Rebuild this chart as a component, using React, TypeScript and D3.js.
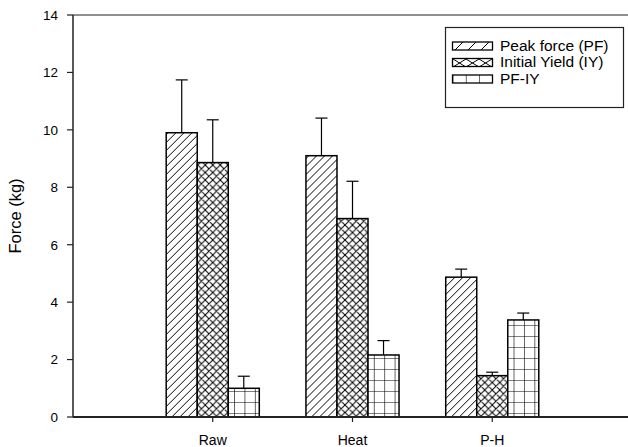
import * as d3 from 'd3'
import React from 'react'

// values
const categories = ['Raw', 'Heat', 'P-H']
const seriesNames = ['Peak force (PF)', 'Initial Yield (IY)', 'PF-IY']
const peakForce = [9.9, 9.1, 4.87]
const peakForceErr = [1.84, 1.31, 0.28]
const initialYield = [8.86, 6.91, 1.44]
const initialYieldErr = [1.49, 1.3, 0.12]
const pfMinusIy = [1.0, 2.16, 3.38]
const pfMinusIyErr = [0.42, 0.5, 0.24]
const yTicks = [0, 2, 4, 6, 8, 10, 12, 14]

const values = [peakForce, initialYield, pfMinusIy]
const errors = [peakForceErr, initialYieldErr, pfMinusIyErr]
const patternIds = ['diag', 'cross', 'grid']

const width = 628
const height = 447
const font = 'Arial, "Liberation Sans", sans-serif'

export default function App() {
  const y = d3.scaleLinear().domain([0, 14]).range([417, 15])
  const x = d3.scaleLinear().domain([0, 4]).range([73, 632])
  const step = x(1) - x(0)
  const inner = d3
    .scaleBand<string>()
    .domain(seriesNames)
    .range([-step * 0.333, step * 0.333])
    .padding(0)

  const capW = 12

  return (
    <svg
      width={width}
      height={height}
      style={{ position: 'absolute', left: 0, top: 0, background: '#fff' }}
      fontFamily={font}
    >
      <defs>
        <pattern id="diag" patternUnits="userSpaceOnUse" width={8} height={8}>
          <path d="M-2,2 L2,-2 M0,8 L8,0 M6,10 L10,6" stroke="#000" strokeWidth={1} />
        </pattern>
        <pattern id="cross" patternUnits="userSpaceOnUse" width={7.5} height={7.5}>
          <path
            d="M-2,2 L2,-2 M0,7.5 L7.5,0 M5.5,9.5 L9.5,5.5 M-2,5.5 L2,9.5 M0,0 L7.5,7.5 M5.5,-2 L9.5,2"
            stroke="#000"
            strokeWidth={1}
          />
        </pattern>
        <pattern id="grid" patternUnits="userSpaceOnUse" width={10.4} height={11} x={0.5} y={6}>
          <path d="M0,0 L0,11 M0,0 L10.4,0" stroke="#000" strokeWidth={1.2} />
        </pattern>
        <pattern id="ldiag" patternUnits="userSpaceOnUse" width={13} height={13} x={453}>
          <path d="M0,13 L13,0 M-3,3 L3,-3 M10,16 L16,10" stroke="#000" strokeWidth={1} />
        </pattern>
        <pattern id="lcross" patternUnits="userSpaceOnUse" width={13} height={8} x={453} y={59}>
          <path d="M0,0 L13,8 M0,8 L13,0" stroke="#000" strokeWidth={1} />
        </pattern>
        <pattern id="lgrid" patternUnits="userSpaceOnUse" width={13.3} height={20} x={452.5}>
          <path d="M0,0 L0,20" stroke="#000" strokeWidth={1.2} />
        </pattern>
      </defs>

      {/* bars */}
      {categories.map((cat, ci) => (
        <g key={cat} transform={`translate(${x(ci + 1)},0)`}>
          {seriesNames.map((s, si) => {
            const v = values[si][ci]
            const e = errors[si][ci]
            const bx = inner(s) as number
            const bw = inner.bandwidth()
            const cx = bx + bw / 2
            return (
              <g key={s}>
                <line x1={cx} x2={cx} y1={y(v)} y2={y(v + e)} stroke="#000" strokeWidth={1.2} />
                <line
                  x1={cx - capW / 2}
                  x2={cx + capW / 2}
                  y1={y(v + e)}
                  y2={y(v + e)}
                  stroke="#000"
                  strokeWidth={1.2}
                />
                <rect x={bx} y={y(v)} width={bw} height={y(0) - y(v)} fill="#fff" />
                <rect
                  x={bx}
                  y={y(v)}
                  width={bw}
                  height={y(0) - y(v)}
                  fill={`url(#${patternIds[si]})`}
                  stroke="#000"
                  strokeWidth={1.5}
                />
              </g>
            )
          })}
        </g>
      ))}

      {/* frame */}
      <line x1={x(0)} x2={width} y1={y(14)} y2={y(14)} stroke="#222" strokeWidth={1.2} />
      <line x1={x(0)} x2={width} y1={y(0)} y2={y(0)} stroke="#222" strokeWidth={2} />
      <line x1={x(0)} x2={x(0)} y1={y(14)} y2={y(0)} stroke="#222" strokeWidth={1.5} />

      {/* y axis */}
      {yTicks.map(t => (
        <g key={t}>
          <line x1={x(0) - 6} x2={x(0)} y1={y(t)} y2={y(t)} stroke="#222" strokeWidth={1.2} />
          <text x={x(0) - 15} y={y(t)} dy="0.36em" textAnchor="end" fontSize={13.5}>
            {t}
          </text>
        </g>
      ))}
      <text
        transform={`translate(${21},${y(7)}) rotate(-90)`}
        textAnchor="middle"
        fontSize={16.5}
      >
        Force (kg)
      </text>

      {/* x axis */}
      {categories.map((c, i) => (
        <g key={c}>
          <line x1={x(i + 1)} x2={x(i + 1)} y1={y(0)} y2={y(0) + 5} stroke="#222" strokeWidth={1.2} />
          <text x={x(i + 1)} y={445} textAnchor="middle" fontSize={14}>
            {c}
          </text>
        </g>
      ))}

      {/* legend */}
      <rect x={445.5} y={27.5} width={178} height={80} fill="#fff" stroke="#222" strokeWidth={1.2} />
      {seriesNames.map((s, i) => {
        const ry = 42 + i * 16.5
        return (
          <g key={s}>
            <rect
              x={452.5}
              y={ry}
              width={40}
              height={8}
              fill={`url(#l${patternIds[i]})`}
              stroke="#000"
              strokeWidth={1.3}
            />
            <text x={500} y={ry + 8.5} fontSize={15.5}>
              {s}
            </text>
          </g>
        )
      })}
    </svg>
  )
}
